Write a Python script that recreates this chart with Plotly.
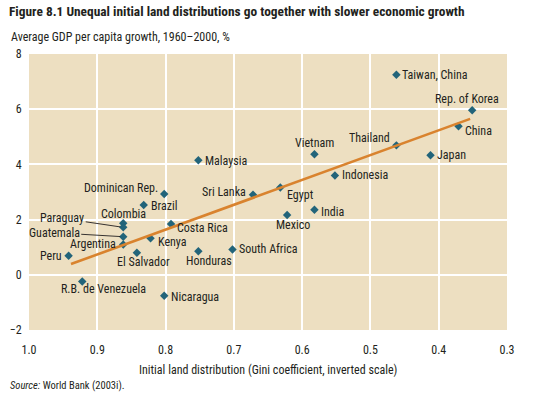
import plotly.graph_objects as go

# ---- data (Gini coefficient of initial land distribution, GDP per capita growth %) ----
countries = ["Taiwan, China", "Rep. of Korea", "China", "Japan", "Thailand", "Vietnam",
             "Indonesia", "Egypt", "Sri Lanka", "India", "Mexico", "Malaysia",
             "Dominican Rep.", "Brazil", "Colombia", "Paraguay", "Guatemala", "Argentina",
             "Peru", "El Salvador", "Kenya", "Costa Rica", "Honduras", "South Africa",
             "R.B. de Venezuela", "Nicaragua"]
gini = [0.462, 0.351, 0.371, 0.412, 0.462, 0.582,
        0.552, 0.632, 0.672, 0.582, 0.622, 0.752,
        0.802, 0.832, 0.862, 0.862, 0.862, 0.862,
        0.942, 0.842, 0.822, 0.792, 0.752, 0.702,
        0.922, 0.802]
growth = [7.25, 5.96, 5.38, 4.33, 4.69, 4.37,
          3.60, 3.16, 2.90, 2.36, 2.17, 4.15,
          2.93, 2.53, 1.87, 1.72, 1.38, 1.10,
          0.69, 0.80, 1.32, 1.84, 0.85, 0.92,
          -0.24, -0.76]

# fitted trend line endpoints
trend_gini = [0.9385, 0.354]
trend_growth = [0.39, 5.65]

x_ticks = [1.0, 0.9, 0.8, 0.7, 0.6, 0.5, 0.4, 0.3]
y_ticks = [-2, 0, 2, 4, 6, 8]

# label placement (styling): xanchor, xshift, yshift
label_style = {
    "Taiwan, China": ("left", 4, 0),
    "Rep. of Korea": ("center", -5, 11),
    "China": ("left", 4, -5),
    "Japan": ("left", 4, 0),
    "Thailand": ("right", -4, 7),
    "Vietnam": ("center", 0, 11),
    "Indonesia": ("left", 5, 0),
    "Egypt": ("left", 5, -7),
    "Sri Lanka": ("right", -5, 3),
    "India": ("left", 5, -2),
    "Mexico": ("center", 6, -10),
    "Malaysia": ("left", 5, -1),
    "Dominican Rep.": ("right", -4, 6),
    "Brazil": ("left", 5, -1),
    "Colombia": ("center", 0, 9),
    "Argentina": ("right", -5, 0),
    "Peru": ("right", -5, 0),
    "El Salvador": ("center", 7, -9),
    "Kenya": ("left", 5, -4),
    "Costa Rica": ("left", 4, -4),
    "Honduras": ("center", 11, -10),
    "South Africa": ("left", 5, 0),
    "R.B. de Venezuela": ("center", 21, -8),
    "Nicaragua": ("left", 5, -1),
}
leader_style = {  # ax, ay offsets for labels with leader lines
    "Paraguay": (-61, -9),
    "Guatemala": (-69, -4),
}

FONT = "Liberation Sans Narrow, Arial Narrow, Roboto Condensed, Liberation Sans, sans-serif"
TXT = "#231F20"
BG = "#EDDFC1"
MARK = "#22647A"
LINE = "#D9832E"

fig = go.Figure()
fig.add_trace(go.Scatter(x=gini, y=growth, mode="markers",
                         marker=dict(symbol="diamond", size=6.5, color=MARK),
                         text=countries, hoverinfo="text"))
fig.add_trace(go.Scatter(x=trend_gini, y=trend_growth, mode="lines",
                         line=dict(color=LINE, width=2.6), hoverinfo="skip"))

annotations = []
for c, gx, gy in zip(countries, gini, growth):
    if c in label_style:
        xa, xs, ys = label_style[c]
        annotations.append(dict(x=gx, y=gy, text=c, showarrow=False, xanchor=xa,
                                yanchor="middle", xshift=xs, yshift=ys,
                                font=dict(family=FONT, size=12, color=TXT)))
    elif c in leader_style:
        ax, ay = leader_style[c]
        annotations.append(dict(x=gx, y=gy, text=c, showarrow=True, arrowhead=0,
                                arrowwidth=0.9, arrowcolor=TXT, ax=ax, ay=ay,
                                standoff=3, font=dict(family=FONT, size=12, color=TXT)))

# titles / notes
annotations += [
    dict(xref="paper", yref="paper", x=0, y=1, xshift=-22, yshift=43, xanchor="left",
         yanchor="middle", showarrow=False,
         text="<b>Figure 8.1 Unequal initial land distributions go together with slower economic growth</b>",
         font=dict(family=FONT, size=13.4, color=TXT)),
    dict(xref="paper", yref="paper", x=0, y=1, xshift=-20, yshift=17, xanchor="left",
         yanchor="middle", showarrow=False,
         text="Average GDP per capita growth, 1960\u20132000, %",
         font=dict(family=FONT, size=12, color=TXT)),
    dict(xref="paper", yref="paper", x=0.5, y=0, yshift=-40, xanchor="center",
         yanchor="middle", showarrow=False,
         text="Initial land distribution (Gini coefficient, inverted scale)",
         font=dict(family=FONT, size=12, color=TXT)),
    dict(xref="paper", yref="paper", x=0, y=0, xshift=-21, yshift=-55, xanchor="left",
         yanchor="middle", showarrow=False,
         text="<i>Source:</i> World Bank (2003i).",
         font=dict(family=FONT, size=10.5, color=TXT)),
]

fig.update_layout(
    width=560, height=394,
    margin=dict(l=29, r=53, t=54, b=64, autoexpand=False),
    paper_bgcolor="white", plot_bgcolor=BG,
    showlegend=False,
    annotations=annotations,
    font=dict(family=FONT, size=12, color=TXT),
)
fig.update_xaxes(range=[1.0, 0.3], tickvals=x_ticks, tickformat=".1f", automargin=False,
                 showgrid=True, gridcolor="white", gridwidth=1.5, zeroline=False,
                 showline=False, ticks="outside", ticklen=9, tickcolor="rgba(0,0,0,0)",
                 tickfont=dict(family=FONT, size=12, color=TXT))
fig.update_yaxes(range=[-2, 8], tickvals=y_ticks, automargin=False,
                 showgrid=True, gridcolor="white", gridwidth=1.5, zeroline=False,
                 showline=False, ticks="outside", ticklen=4, tickcolor="rgba(0,0,0,0)",
                 tickfont=dict(family=FONT, size=12, color=TXT))

fig.write_html("out.html", config={"displayModeBar": False},
               post_script="document.body.style.margin='0';document.body.style.overflow='hidden';")
